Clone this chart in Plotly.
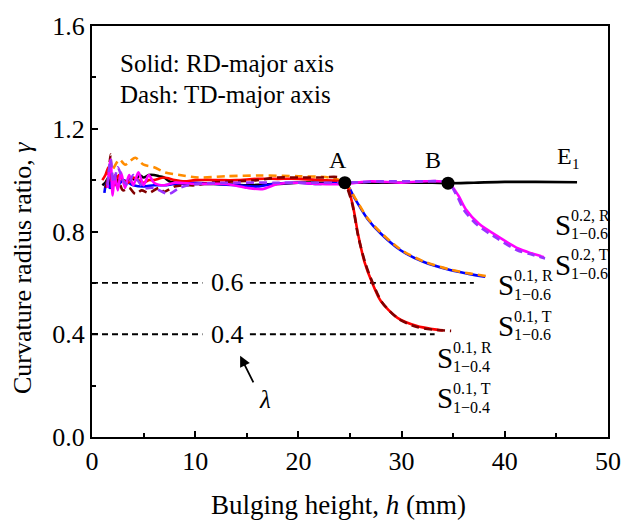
import plotly.graph_objects as go

# ---------------- data ----------------
# E1 (solid black)
e1_x = [1.0, 1.3, 1.6, 1.8, 2.0, 2.3, 2.6, 3.0, 3.4, 3.8, 4.2, 4.6, 5.0, 5.5, 6.0, 6.5, 7.0, 7.5, 8.0, 9.0, 10.0,
        12, 15, 18, 20, 22, 24.5, 27, 30, 33, 34.5, 37, 40, 43, 47]
e1_y = [0.98, 0.99, 1.01, 0.97, 1.00, 1.02, 0.99, 1.00, 0.99, 1.01, 1.00, 1.02, 1.01, 1.02, 1.02, 1.015, 1.01, 0.995, 0.99, 0.985, 0.985,
        0.985, 0.98, 0.985, 0.99, 0.99, 0.99, 0.99, 0.99, 0.99, 0.988, 0.99, 0.993, 0.993, 0.992]

# S^{0.1,R}_{1-0.4} (solid red)
red_x = [1.0, 1.3, 1.6, 1.9, 2.2, 2.6, 3.0, 3.5, 4.0, 4.5, 5.0, 5.5, 6.0, 7.0, 8.0, 9.0, 10.0, 12, 14, 16, 18, 20, 22, 24.5,
         25.2, 25.8, 26.4, 27.1, 28.0, 29.6, 31.5, 33.0, 34.0]
red_y = [1.00, 1.02, 1.05, 1.00, 0.98, 1.02, 1.00, 0.99, 1.01, 1.00, 0.99, 1.00, 1.00, 1.01, 1.00, 0.995, 1.00, 1.00, 1.00, 1.005, 1.005, 1.005, 1.0, 0.99,
         0.914, 0.785, 0.682, 0.605, 0.528, 0.464, 0.432, 0.42, 0.415]

# S^{0.1,T}_{1-0.4} (dashed dark red)
dred_x = [1.3, 1.6, 1.8, 2.0, 2.5, 3.0, 3.6, 4.2, 4.8, 5.5, 6.5, 7.0, 8.0, 9.0, 10.0, 11.5, 14, 16, 18, 20, 22, 24.0, 24.5,
          25.2, 25.8, 26.5, 27.2, 28.1, 29.7, 31.5, 33.0, 34.8]
dred_y = [0.97, 1.02, 1.10, 0.98, 1.00, 0.96, 0.97, 0.946, 0.96, 0.95, 0.97, 0.955, 0.975, 0.98, 0.98, 0.99, 0.995, 1.0, 1.01, 1.01, 1.01, 1.01, 0.99,
          0.91, 0.78, 0.675, 0.60, 0.525, 0.46, 0.428, 0.418, 0.413]

# S^{0.1,R}_{1-0.6} (solid blue)
blue_x = [1.2, 1.4, 1.7, 2.0, 2.5, 3.0, 4.0, 5.0, 6.0, 7.0, 8.0, 10, 12, 14, 16, 17.5, 20, 22, 24.5,
          25.5, 26.7, 28.0, 29.9, 32.1, 34.7, 36.5, 38.1]
blue_y = [0.95, 0.99, 0.97, 1.00, 0.98, 1.00, 0.98, 0.975, 0.98, 0.98, 0.985, 0.99, 0.985, 0.98, 0.975, 0.985, 0.99, 0.985, 0.99,
          0.926, 0.849, 0.791, 0.727, 0.682, 0.650, 0.635, 0.624]

# S^{0.1,T}_{1-0.6} (dashed orange)
org_x = [1.5, 2.0, 2.66, 3.2, 3.7, 4.2, 5.0, 6.0, 7.1, 8.5, 10.3, 13, 16.3, 20, 23, 24.5,
         25.5, 26.7, 28.0, 29.9, 32.1, 34.7, 36.5, 38.3]
org_y = [1.00, 1.04, 1.08, 1.06, 1.075, 1.087, 1.06, 1.05, 1.03, 1.02, 1.01, 1.015, 1.018, 1.015, 1.01, 0.99,
         0.93, 0.852, 0.795, 0.73, 0.684, 0.652, 0.637, 0.626]

# S^{0.2,R}_{1-0.6} (solid magenta)
mag_x = [1.5, 1.8, 2.0, 2.2, 2.5, 2.8, 3.2, 3.6, 4.0, 4.5, 5.0, 5.5, 6.0, 7.0, 8.0, 10, 13, 15, 16.5, 18, 20, 22, 24.5, 27, 30, 32, 34.5,
         35.5, 36.2, 37.5, 39.4, 41.3, 42.6, 43.8]
mag_y = [0.97, 1.08, 0.94, 1.02, 0.96, 1.03, 0.97, 1.02, 0.98, 1.03, 0.98, 1.02, 0.99, 0.98, 0.99, 0.985, 0.985, 0.97, 0.965, 0.985, 0.99, 0.985, 0.985, 0.995, 0.99, 0.995, 0.99,
         0.94, 0.888, 0.830, 0.779, 0.734, 0.715, 0.70]

# S^{0.2,T}_{1-0.6} (dashed purple)
pur_x = [1.5, 1.8, 2.1, 2.5, 3.0, 3.5, 4.0, 5.0, 6.0, 7.4, 8.5, 10, 14, 18, 22, 24.5, 28, 32, 34.5,
         35.4, 36.1, 37.4, 39.3, 41.2, 42.6, 43.9]
pur_y = [0.98, 1.08, 0.99, 1.05, 1.00, 0.98, 1.02, 0.97, 0.97, 0.946, 0.97, 0.985, 0.99, 0.99, 0.99, 0.99, 0.995, 0.995, 0.99,
         0.935, 0.88, 0.823, 0.772, 0.727, 0.71, 0.695]

# transition points A and B
pt_x = [24.5, 34.5]
pt_y = [0.99, 0.988]
pt_lab = ["A", "B"]

# lambda threshold lines
lam_vals = [0.6, 0.4]
lam_seg1 = [0, 10.7]
lam_seg2_06 = [15.3, 37.0]
lam_seg2_04 = [15.3, 33.2]

xticks = [0, 10, 20, 30, 40, 50]
yticks = [0.0, 0.4, 0.8, 1.2, 1.6]

# ---------------- figure ----------------
FONT = "Liberation Serif, Times New Roman, serif"
fig = go.Figure()

def add(x, y, color, dash="solid", width=2.6, shape="spline"):
    fig.add_trace(go.Scatter(x=x, y=y, mode="lines",
                             line=dict(color=color, width=width, dash=dash, shape=shape, smoothing=0.8),
                             showlegend=False, hoverinfo="skip"))

# lambda lines
for v, seg2 in zip(lam_vals, [lam_seg2_06, lam_seg2_04]):
    add(lam_seg1, [v, v], "black", dash="6px,4px", width=1.8, shape="linear")
    add(seg2, [v, v], "black", dash="6px,4px", width=1.8, shape="linear")

DASH = "8px,5px"
add(e1_x, e1_y, "black")
add(blue_x, blue_y, "#0000FF")
add(org_x, org_y, "#FF8C00", dash=DASH)
add(red_x, red_y, "#FF0000")
add(dred_x, dred_y, "#800000", dash=DASH)
add(mag_x, mag_y, "#FF00FF")
add(pur_x, pur_y, "#9933FF", dash=DASH)

fig.add_trace(go.Scatter(x=pt_x, y=pt_y, mode="markers",
                         marker=dict(color="black", size=13),
                         showlegend=False, hoverinfo="skip"))

# plot area in pixels
L, R, T, B = 92, 618, 22, 437
def P(px, py):
    return (px - L) / (R - L), (B - py) / (B - T)

ann = []
def text(px, py, s, size, xanchor="left", angle=0):
    xp, yp = P(px, py)
    ann.append(dict(x=xp, y=yp, xref="paper", yref="paper", text=s, showarrow=False,
                    xanchor=xanchor, yanchor="middle", textangle=angle,
                    font=dict(family=FONT, size=size, color="black")))

# axis titles
text(343, 506, "Bulging height, <i>h</i> (mm)", 27, xanchor="center")
text(21, 266, "Curvature radius ratio, <i>γ</i>", 26, xanchor="center", angle=-90)

text(118, 60, "Solid: RD-major axis", 25)
text(118, 91, "Dash: TD-major axis", 25)
for lab, px in zip(pt_lab, [343, 440]):
    text(px, 157, lab, 24, xanchor="center")
text(564, 153, "E", 24)
text(579, 161, "1", 15)

text(230, 281, "0.6", 26, xanchor="center")
text(230, 333, "0.4", 26, xanchor="center")
text(268, 399, "<i>λ</i>", 25, xanchor="center")

# arrow (head at 243,355 ; tail at 257,383 in pixels)
hx, hy = P(243, 355)
ann.append(dict(x=hx, y=hy, xref="paper", yref="paper", ax=257 - 243, ay=383 - 355,
                showarrow=True, arrowhead=2, arrowsize=1.2, arrowwidth=1.8,
                arrowcolor="black", text=""))

def slabel(px, pyc, sup, sub):
    text(px, pyc, "S", 29)
    text(px + 16, pyc - 10, sup, 16)
    text(px + 16, pyc + 9, sub, 16)

slabel(562, 223, "0.2, R", "1−0.6")
slabel(562, 263, "0.2, T", "1−0.6")
slabel(504, 284, "0.1, R", "1−0.6")
slabel(504, 325, "0.1, T", "1−0.6")
slabel(442, 357, "0.1, R", "1−0.4")
slabel(442, 398, "0.1, T", "1−0.4")

axis_common = dict(showline=True, linecolor="black", linewidth=2, mirror=True,
                   ticks="inside", ticklen=6, tickwidth=1.5, tickcolor="black",
                   showgrid=False, zeroline=False,
                   tickfont=dict(family=FONT, size=26, color="black"))

fig.update_layout(
    width=633, height=523,
    margin=dict(l=L, r=633 - R, t=T, b=523 - B),
    paper_bgcolor="white", plot_bgcolor="white",
    xaxis=dict(range=[0, 50], tickvals=xticks, ticktext=[str(v) for v in xticks],
               minor=dict(ticks="inside", ticklen=4, tickwidth=1.5, tickcolor="black", dtick=5, tick0=0),
               **axis_common),
    yaxis=dict(range=[0, 1.6], tickvals=yticks, ticktext=[f"{v:.1f}" for v in yticks],
               minor=dict(ticks="inside", ticklen=4, tickwidth=1.5, tickcolor="black", dtick=0.2, tick0=0),
               **axis_common),
    annotations=ann,
)

fig.write_html("out.html")
